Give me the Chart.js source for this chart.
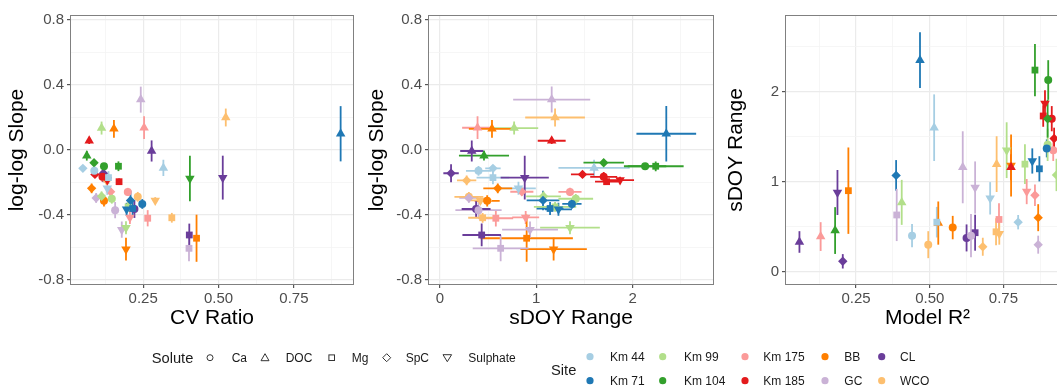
<!DOCTYPE html>
<html>
<head>
<meta charset="utf-8">
<script src="https://cdn.jsdelivr.net/npm/chart.js@4.4.1/dist/chart.umd.min.js"></script>
<style>
  html, body { margin: 0; padding: 0; background: #fff; overflow: hidden; }
  #wrap { position: relative; width: 1057px; height: 386px; overflow: hidden; font-family: 'Liberation Sans', Arial, sans-serif; }
  .panel { position: absolute; top: 0; width: 360px; height: 340px; }
  #legend { position: absolute; left: 0; top: 330px; }
</style>
</head>
<body>
<div id="wrap">
  <div class="panel" style="left:0px"><canvas id="cvPlot" width="360" height="340"></canvas></div>
  <div class="panel" style="left:360px"><canvas id="sdoyPlot" width="360" height="340"></canvas></div>
  <div class="panel" style="left:720px"><canvas id="r2Plot" width="360" height="340"></canvas></div>
  <svg id="legend" width="1057" height="56" xmlns="http://www.w3.org/2000/svg"></svg>
</div>
<script>
// sites in legend order (two rows, filled column by column)
const sites = ['Km 44', 'Km 71', 'Km 99', 'Km 104', 'Km 175', 'Km 185', 'BB', 'GC', 'CL', 'WCO'];
const siteColors = ['#A6CEE3', '#1F78B4', '#B2DF8A', '#33A02C', '#FB9A99', '#E31A1C', '#FF7F00', '#CAB2D6', '#6A3D9A', '#FDBF6F'];
const solutes = ['Ca', 'DOC', 'Mg', 'SpC', 'Sulphate'];

// rows = solutes (Ca, DOC, Mg, SpC, Sulphate), columns = sites in the order above
const cvRatio = [
  [0.088, 0.247, 0.146, 0.120, 0.199, 0.115, 0.120, 0.157, 0.221, 0.232],
  [0.317, 0.905, 0.112, 0.063, 0.253, 0.071, 0.153, 0.242, 0.278, 0.524],
  [0.135, 0.215, 0.200, 0.168, 0.265, 0.170, 0.427, 0.402, 0.403, 0.345],
  [0.050, 0.208, 0.112, 0.087, 0.142, 0.090, 0.079, 0.094, 0.118, 0.129],
  [0.131, 0.195, 0.193, 0.405, 0.206, 0.131, 0.193, 0.179, 0.514, 0.290]
];
const slope = [
  [-0.128, -0.332, -0.300, -0.100, -0.258, -0.165, -0.313, -0.370, -0.363, -0.288],
  [-0.110, 0.100, 0.135, -0.035, 0.137, 0.057, 0.130, 0.310, -0.006, 0.200],
  [-0.170, -0.360, -0.350, -0.100, -0.420, -0.195, -0.543, -0.605, -0.523, -0.417],
  [-0.113, -0.310, -0.285, -0.078, -0.257, -0.150, -0.236, -0.295, -0.143, -0.187],
  [-0.236, -0.365, -0.478, -0.175, -0.415, -0.185, -0.610, -0.490, -0.170, -0.310]
];
const slopeErr = [
  [0.030, 0.030, 0.030, 0.020, 0.025, 0.030, 0.035, 0.050, 0.055, 0.030],
  [0.050, 0.170, 0.040, 0.030, 0.070, 0.020, 0.055, 0.080, 0.065, 0.055],
  [0.040, 0.040, 0.030, 0.030, 0.050, 0.020, 0.145, 0.080, 0.070, 0.030],
  [0.020, 0.060, 0.030, 0.020, 0.025, 0.020, 0.030, 0.030, 0.055, 0.030],
  [0.040, 0.040, 0.040, 0.140, 0.040, 0.020, 0.070, 0.050, 0.135, 0.020]
];
const sdoyRange = [
  [0.40, 1.37, 1.41, 2.13, 1.35, 1.70, 0.49, 0.40, 0.375, 0.30],
  [1.60, 2.35, 0.77, 0.457, 0.39, 1.16, 0.54, 1.16, 0.33, 1.195],
  [0.55, 1.143, 1.195, 2.24, 0.58, 1.73, 0.90, 0.63, 0.433, 0.443],
  [0.55, 1.07, 1.075, 1.70, 0.85, 1.48, 0.60, 0.30, 0.115, 0.277],
  [0.815, 1.23, 1.35, null, 0.89, 1.87, 1.18, 0.935, 0.88, 0.42]
];
const sdoyErr = [
  [0.13, 0.10, 0.18, 0.22, 0.12, 0.14, 0.13, 0.24, 0.15, 0.15],
  [0.37, 0.31, 0.25, 0.26, 0.16, 0.145, 0.24, 0.40, 0.12, 0.31],
  [0.17, 0.14, 0.22, 0.29, 0.18, 0.12, 0.48, 0.29, 0.20, 0.15],
  [0.08, 0.17, 0.18, 0.21, 0.12, 0.12, 0.15, 0.10, 0.08, 0.10],
  [0.18, 0.14, 0.31, null, 0.14, 0.145, 0.345, 0.29, 0.25, 0.12]
];
const modelR2 = [
  [0.44, 0.897, 0.90, 0.902, 0.919, 0.914, 0.578, 0.64, 0.625, 0.495],
  [0.515, 0.467, 0.405, 0.179, 0.13, 0.776, 0.529, 0.612, 0.058, 0.727],
  [0.524, 0.872, 0.823, 0.857, 0.735, 0.885, 0.224, 0.388, 0.654, 0.725],
  [0.80, 0.386, 0.93, 0.90, 0.857, 0.922, 0.868, 0.868, 0.205, 0.68],
  [0.705, 0.848, 0.761, null, 0.829, 0.891, 0.776, 0.654, 0.187, 0.736]
];

// axis ticks (major get labels, minor only a faint grid line)
const slopeTicks = [-0.8, -0.4, 0, 0.4, 0.8];
const slopeMinor = [-0.6, -0.2, 0.2, 0.6];
const cvTicks = [0.25, 0.5, 0.75];
const cvMinor = [0.125, 0.375, 0.625, 0.875];
const sdoyTicks = [0, 1, 2];
const sdoyMinor = [0.5, 1.5, 2.5];
const r2Ticks = [0.25, 0.5, 0.75];
const r2Minor = [0.125, 0.375, 0.625, 0.875];

const FONT = "'Liberation Sans', Arial, sans-serif";
const shapeStyle = ['circle', 'triangle', 'rect', 'rectRot', 'triangle'];
const shapeRadius = [4, 5.5, 4.8, 4.7, 5.5];

// one dataset per site, error bar ends kept on each point
function buildSets(xs, xErr, ys, yErr) {
  return sites.map((site, j) => {
    let pts = [];
    solutes.forEach((sol, i) => {
      let x = xs[i][j], y = ys[i][j];
      if (x == null || y == null) return;
      let p = { x: x, y: y, s: i };
      if (xErr) { p.xLo = x - xErr[i][j]; p.xHi = x + xErr[i][j]; }
      if (yErr) { p.yLo = y - yErr[i][j]; p.yHi = y + yErr[i][j]; }
      pts.push(p);
    });
    return {
      label: site,
      data: pts,
      backgroundColor: siteColors[j],
      borderColor: siteColors[j],
      borderWidth: 0,
      pointStyle: c => shapeStyle[c.raw.s],
      radius: c => shapeRadius[c.raw.s],
      rotation: c => (c.raw.s === 4 ? 180 : 0)
    };
  });
}

const errorBars = {
  id: 'errorBars',
  beforeDatasetsDraw(chart) {
    let ctx = chart.ctx, xs = chart.scales.x, ys = chart.scales.y, a = chart.chartArea;
    ctx.save();
    ctx.beginPath();
    ctx.rect(a.left, a.top, a.right - a.left, a.bottom - a.top);
    ctx.clip();
    ctx.lineWidth = 1.8;
    chart.data.datasets.forEach(ds => {
      ctx.strokeStyle = ds.borderColor;
      ds.data.forEach(p => {
        let px = xs.getPixelForValue(p.x), py = ys.getPixelForValue(p.y);
        ctx.beginPath();
        if (p.yLo != null) {
          ctx.moveTo(px, ys.getPixelForValue(p.yLo));
          ctx.lineTo(px, ys.getPixelForValue(p.yHi));
        }
        if (p.xLo != null) {
          ctx.moveTo(xs.getPixelForValue(p.xLo), py);
          ctx.lineTo(xs.getPixelForValue(p.xHi), py);
        }
        ctx.stroke();
      });
    });
    ctx.restore();
  }
};

const panelBorder = {
  id: 'panelBorder',
  afterDatasetsDraw(chart) {
    let ctx = chart.ctx, a = chart.chartArea;
    ctx.save();
    ctx.strokeStyle = '#808080';
    ctx.lineWidth = 1;
    ctx.strokeRect(Math.round(a.left) - 0.5, Math.round(a.top) - 0.5, Math.round(a.right - a.left) + 1, Math.round(a.bottom - a.top) + 1);
    ctx.restore();
  }
};

function isIn(list, v) {
  return list.some(m => Math.abs(m - v) < 1e-9);
}

function axis(min, max, majors, minors, fmt, title, horizontal, titlePad, size) {
  return {
    type: 'linear',
    min: min,
    max: max,
    afterBuildTicks: s => {
      s.ticks = majors.concat(minors).sort((a, b) => a - b).map(v => ({ value: v }));
    },
    afterFit: s => {
      if (horizontal) s.height = size; else s.width = size;
    },
    border: { display: false },
    grid: {
      color: c => (isIn(majors, c.tick.value) ? '#EBEBEB' : '#F4F4F4'),
      lineWidth: c => (isIn(majors, c.tick.value) ? 1.2 : 0.8),
      tickColor: c => (isIn(majors, c.tick.value) ? '#555555' : 'rgba(0,0,0,0)'),
      tickLength: 4,
      tickWidth: 1.2
    },
    ticks: {
      autoSkip: false,
      maxRotation: 0,
      padding: horizontal ? 2 : 3,
      color: '#4D4D4D',
      font: { family: FONT, size: 15 },
      callback: v => (isIn(majors, v) ? fmt(v) : '')
    },
    title: {
      display: true,
      text: title,
      color: '#000000',
      font: { family: FONT, size: 21 },
      padding: horizontal ? { top: 0, bottom: titlePad } : { top: titlePad, bottom: 0 }
    }
  };
}

function makePanel(id, sets, xAxis, yAxis, padRight) {
  new Chart(document.getElementById(id), {
    type: 'scatter',
    data: { datasets: sets },
    options: {
      responsive: false,
      animation: false,
      events: [],
      layout: { padding: { left: 0, right: padRight, top: 16, bottom: 0 } },
      plugins: { legend: { display: false }, tooltip: { enabled: false } },
      scales: { x: xAxis, y: yAxis }
    },
    plugins: [errorBars, panelBorder]
  });
}

const f1 = v => v.toFixed(1);
const f2 = v => v.toFixed(2);
const f0 = v => v.toFixed(0);

makePanel('cvPlot',
  buildSets(cvRatio, null, slope, slopeErr),
  axis(0.0106, 0.946, cvTicks, cvMinor, f2, 'CV Ratio', true, 9, 56),
  axis(-0.8246, 0.8246, slopeTicks, slopeMinor, f1, 'log-log Slope', false, 5, 71),
  7);

makePanel('sdoyPlot',
  buildSets(sdoyRange, sdoyErr, slope, slopeErr),
  axis(-0.114, 2.835, sdoyTicks, sdoyMinor, f0, 'sDOY Range', true, 9, 56),
  axis(-0.8246, 0.8246, slopeTicks, slopeMinor, f1, 'log-log Slope', false, 5, 69),
  7);

makePanel('r2Plot',
  buildSets(modelR2, null, sdoyRange, sdoyErr),
  axis(0.0124, 0.9725, r2Ticks, r2Minor, f2, 'Model R²', true, 9, 56),
  axis(-0.137, 2.841, sdoyTicks, sdoyMinor, f0, 'sDOY Range', false, 4, 66),
  11);

// legend (solute shapes + site colours)
const svg = document.getElementById('legend');
const NS = 'http://www.w3.org/2000/svg';
function el(tag, attrs, text) {
  let e = document.createElementNS(NS, tag);
  for (let k in attrs) e.setAttribute(k, attrs[k]);
  if (text != null) e.textContent = text;
  svg.appendChild(e);
  return e;
}
function label(x, y, text, size) {
  el('text', { x: x, y: y, 'font-family': FONT, 'font-size': size, fill: '#1A1A1A', 'dominant-baseline': 'central' }, text);
}

const soluteY = 27.7;
const soluteSymX = [210, 265, 331.7, 386.7, 447.3];
const soluteTextX = [231.7, 285.7, 351.7, 405.7, 468.3];
label(151.7, soluteY, 'Solute', 14.7);
solutes.forEach((sol, i) => {
  let cx = soluteSymX[i], cy = soluteY;
  let st = { fill: 'none', stroke: '#333333', 'stroke-width': 1 };
  if (i === 0) el('circle', Object.assign({ cx: cx, cy: cy, r: 3 }, st));
  if (i === 1) el('polygon', Object.assign({ points: `${cx - 4},${cy + 3} ${cx + 4},${cy + 3} ${cx},${cy - 4}` }, st));
  if (i === 2) el('rect', Object.assign({ x: cx - 2.8, y: cy - 2.8, width: 5.6, height: 5.6 }, st));
  if (i === 3) el('polygon', Object.assign({ points: `${cx},${cy - 4} ${cx + 4},${cy} ${cx},${cy + 4} ${cx - 4},${cy}` }, st));
  if (i === 4) el('polygon', Object.assign({ points: `${cx - 4.3},${cy - 3} ${cx + 4.3},${cy - 3} ${cx},${cy + 4}` }, st));
  label(soluteTextX[i], soluteY, sol, 12);
});

label(551, 40, 'Site', 14.7);
const siteDotX = [590, 662.7, 745, 825, 881.7];
const siteTextX = [610, 684, 763.3, 844.3, 900];
const siteRowY = [26.7, 50.7];
sites.forEach((site, j) => {
  let col = Math.floor(j / 2), row = j % 2;
  el('circle', { cx: siteDotX[col], cy: siteRowY[row], r: 3.6, fill: siteColors[j] });
  label(siteTextX[col], siteRowY[row], site, 12);
});
</script>
</body>
</html>
